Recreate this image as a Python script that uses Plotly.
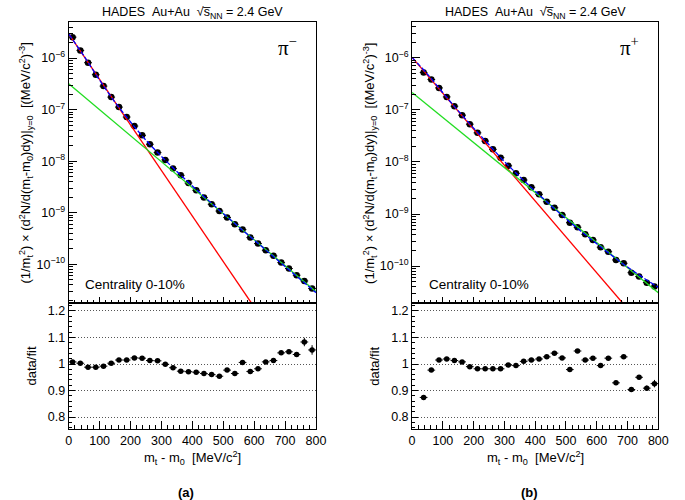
import plotly.graph_objects as go

# ---------------- data ----------------
mt_pim = [12.5, 37.5, 62.5, 87.5, 112.5, 137.5, 162.5, 187.5, 212.5, 237.5, 262.5, 287.5,
          312.5, 337.5, 362.5, 387.5, 412.5, 437.5, 462.5, 487.5, 512.5, 537.5, 562.5, 587.5,
          612.5, 637.5, 662.5, 687.5, 712.5, 737.5, 762.5, 787.5]
spec_pim = [2.55e-6, 1.41e-6, 8.15e-7, 4.76e-7, 2.86e-7, 1.75e-7, 1.12e-7, 7.19e-8, 4.81e-8,
            3.18e-8, 2.13e-8, 1.47e-8, 1.06e-8, 7.19e-9, 5.33e-9, 3.78e-9, 2.73e-9, 1.97e-9,
            1.46e-9, 1.08e-9, 8.07e-10, 5.98e-10, 4.72e-10, 3.30e-10, 2.53e-10, 1.87e-10,
            1.46e-10, 1.08e-10, 8.30e-11, 6.15e-11, 4.76e-11, 3.40e-11]
ratio_pim = [1.008, 1.003, 0.988, 0.988, 0.992, 1.003, 1.015, 1.015, 1.023, 1.022, 1.013, 1.012,
             0.999, 0.986, 0.973, 0.971, 0.969, 0.964, 0.960, 0.954, 0.977, 0.964, 1.006, 0.972,
             0.982, 1.008, 1.013, 1.042, 1.046, 1.036, 1.083, 1.053]
rerr_pim = [0.004] * 22 + [0.005] * 5 + [0.008, 0.008, 0.008, 0.016, 0.018]

mt_pip = [37.5, 62.5, 87.5, 112.5, 137.5, 162.5, 187.5, 212.5, 237.5, 262.5, 287.5,
          312.5, 337.5, 362.5, 387.5, 412.5, 437.5, 462.5, 487.5, 512.5, 537.5, 562.5, 587.5,
          612.5, 637.5, 662.5, 687.5, 712.5, 737.5, 762.5, 787.5]
spec_pip = [5.25e-7, 3.85e-7, 2.65e-7, 1.78e-7, 1.18e-7, 7.94e-8, 5.33e-8, 3.63e-8, 2.52e-8,
            1.75e-8, 1.21e-8, 8.45e-9, 6.04e-9, 4.50e-9, 3.26e-9, 2.39e-9, 1.72e-9, 1.32e-9,
            9.57e-10, 6.81e-10, 5.56e-10, 4.07e-10, 3.17e-10, 2.30e-10, 1.89e-10, 1.31e-10,
            1.13e-10, 7.46e-11, 6.27e-11, 4.80e-11, 4.03e-11]
ratio_pip = [0.874, 0.977, 1.015, 1.019, 1.013, 1.008, 0.990, 0.982, 0.982, 0.982, 0.982,
             0.996, 0.994, 1.010, 1.015, 1.019, 1.027, 1.041, 1.023, 0.979, 1.049, 1.015, 1.022,
             0.994, 1.022, 0.929, 1.027, 0.904, 0.950, 0.909, 0.926]
rerr_pip = [0.004] * 25 + [0.005, 0.005, 0.006, 0.008, 0.010, 0.014]

# fit curves
pim_red_x, pim_red_y = [0, 591], [2.94e-6, 1.78e-11]
pim_green_x, pim_green_y = [0, 800], [3.19e-7, 2.95e-11]
fit_x = [0, 50, 100, 150, 200, 250, 300, 350, 400, 500, 600, 700, 800]
pim_blue_y = [2.95e-6, 1.08e-6, 3.73e-7, 1.39e-7, 5.77e-8, 2.55e-8, 1.24e-8, 6.32e-9,
              3.31e-9, 9.68e-10, 2.96e-10, 9.12e-11, 2.82e-11]

pip_red_x, pip_red_y = [0, 684], [1.02e-6, 1.95e-11]
pip_green_x, pip_green_y = [0, 800], [2.17e-7, 3.08e-11]
pip_blue_y = [1.02e-6, 4.86e-7, 2.14e-7, 9.59e-8, 4.47e-8, 2.14e-8, 1.02e-8, 5.21e-9,
              2.74e-9, 8.13e-10, 2.68e-10, 9.55e-11, 3.89e-11]

x_ticks = [0, 100, 200, 300, 400, 500, 600, 700, 800]
log_ticks = [1e-10, 1e-9, 1e-8, 1e-7, 1e-6]
ratio_ticks = [0.8, 0.9, 1.0, 1.1, 1.2]
ratio_labels = ["0.8", "0.9", "1", "1.1", "1.2"]

# ---------------- figure ----------------
W, H = 685, 500
FONT = "Liberation Sans, Arial, Helvetica, sans-serif"
RED, GREEN, BLUE = "#ff0000", "#22dd22", "#0000ff"


def fx(px):
    return px / W


def fy(py):
    return 1 - py / H


fig = go.Figure()

panels = [
    dict(sx="x", sy="y", rx="x2", ry="y2", mt=mt_pim, spec=spec_pim, ratio=ratio_pim, rerr=rerr_pim,
         red=(pim_red_x, pim_red_y), green=(pim_green_x, pim_green_y), blue=pim_blue_y),
    dict(sx="x3", sy="y3", rx="x4", ry="y4", mt=mt_pip, spec=spec_pip, ratio=ratio_pip, rerr=rerr_pip,
         red=(pip_red_x, pip_red_y), green=(pip_green_x, pip_green_y), blue=pip_blue_y),
]

for p in panels:
    spec_err = [v * e for v, e in zip(p["spec"], p["rerr"])]
    fig.add_trace(go.Scatter(
        x=p["mt"], y=p["spec"], mode="markers", xaxis=p["sx"], yaxis=p["sy"],
        marker=dict(color="black", size=6.5, symbol="circle"),
        error_x=dict(type="constant", value=12.5, color="black", thickness=1, width=0),
        error_y=dict(type="data", array=spec_err, color="black", thickness=1, width=0),
        showlegend=False))
    fig.add_trace(go.Scatter(x=p["red"][0], y=p["red"][1], mode="lines", xaxis=p["sx"], yaxis=p["sy"],
                             line=dict(color=RED, width=1.3), showlegend=False))
    fig.add_trace(go.Scatter(x=p["green"][0], y=p["green"][1], mode="lines", xaxis=p["sx"], yaxis=p["sy"],
                             line=dict(color=GREEN, width=1.3), showlegend=False))
    fig.add_trace(go.Scatter(x=fit_x, y=p["blue"], mode="lines", xaxis=p["sx"], yaxis=p["sy"],
                             line=dict(color=BLUE, width=1.3, dash="5px,2px", shape="spline"),
                             showlegend=False))
    fig.add_trace(go.Scatter(
        x=p["mt"], y=p["ratio"], mode="markers", xaxis=p["rx"], yaxis=p["ry"],
        marker=dict(color="black", size=5.5, symbol="circle"),
        error_x=dict(type="constant", value=12.5, color="black", thickness=1, width=0),
        error_y=dict(type="data", array=p["rerr"], color="black", thickness=1, width=0),
        showlegend=False))

tickfont = dict(family=FONT, size=12.5, color="black")
common = dict(showline=True, linecolor="black", linewidth=1, mirror=True, ticks="inside",
              tickcolor="black", tickwidth=1, zeroline=False, showgrid=False, tickfont=tickfont)

left_x = [fx(67), fx(319)]
right_x = [fx(417), fx(668)]
up_y = [fy(303), fy(22)]
lo_y = [fy(429), fy(303)]

minor_log = [m * d for d in [1e-11, 1e-10, 1e-9, 1e-8, 1e-7, 1e-6] for m in range(2, 10)]
log_text = ["10<sup>−%d</sup>" % k for k in [10, 9, 8, 7, 6]]


def upper_x(anchor, dom):
    return dict(domain=dom, anchor=anchor, range=[0, 800], tickvals=x_ticks, showticklabels=False,
                ticklen=6, minor=dict(ticks="inside", ticklen=3, dtick=20, tickcolor="black"), **common)


def lower_x(anchor, dom):
    return dict(domain=dom, anchor=anchor, range=[0, 800], tickvals=x_ticks,
                ticktext=[str(v) for v in x_ticks], ticklen=8,
                minor=dict(ticks="inside", ticklen=4, dtick=20, tickcolor="black"), **common)


def upper_y(anchor, rng):
    return dict(domain=up_y, anchor=anchor, type="log", range=rng, tickvals=log_ticks,
                ticktext=log_text, ticklen=8,
                minor=dict(ticks="inside", ticklen=4, tickvals=minor_log, tickcolor="black"),
                **common)


def lower_y(anchor):
    c = dict(common)
    c["showgrid"] = True
    return dict(domain=lo_y, anchor=anchor, range=[0.755, 1.23], tickvals=ratio_ticks,
                ticktext=ratio_labels, ticklen=6, gridcolor="#555", griddash="1px,2px", gridwidth=1,
                minor=dict(ticks="inside", ticklen=3, dtick=0.02, tickcolor="black", showgrid=False),
                **c)


fig.update_layout(
    width=W, height=H, margin=dict(l=0, r=0, t=0, b=0),
    paper_bgcolor="white", plot_bgcolor="white",
    font=dict(family=FONT, color="black"),
    xaxis=upper_x("y", left_x), yaxis=upper_y("x", [-10.75, -5.30]),
    xaxis2=lower_x("y2", left_x), yaxis2=lower_y("x2"),
    xaxis3=upper_x("y3", right_x), yaxis3=upper_y("x3", [-10.71, -5.31]),
    xaxis4=lower_x("y4", right_x), yaxis4=lower_y("x4"),
)

NB = "\u00a0"
title_txt = "HADES" + NB * 2 + "Au+Au" + NB * 2 + "√s\u0305<sub>NN</sub> = 2.4 GeV"
ytitle = ("(1/m<sub>t</sub><sup>2</sup>) × (d<sup>2</sup>N/d(m<sub>t</sub>-m<sub>0</sub>)dy)|<sub>y=0</sub>"
          + NB * 2 + "[(MeV/c<sup>2</sup>)<sup>-3</sup>]")
xtitle = "m<sub>t</sub> - m<sub>0</sub>" + NB * 2 + "[MeV/c<sup>2</sup>]"

ann = []
for cx, ytx, rtx, lab, pil, pix, cenx in [
        (193, 23, 29, "<b>(a)</b>", "π<sup>−</sup>", 278, 82),
        (542.5, 374, 378, "<b>(b)</b>", "π<sup>+</sup>", 627, 432)]:
    ann.append(dict(x=fx(cx), y=fy(13), xref="paper", yref="paper", text=title_txt, showarrow=False,
                    xanchor="center", yanchor="middle", font=dict(family=FONT, size=12.5)))
    ann.append(dict(x=fx(ytx), y=fy(163), xref="paper", yref="paper", text=ytitle, showarrow=False,
                    textangle=-90, xanchor="center", yanchor="middle", font=dict(family=FONT, size=13)))
    ann.append(dict(x=fx(rtx), y=fy(366), xref="paper", yref="paper", text="data/fit", showarrow=False,
                    textangle=-90, xanchor="center", yanchor="middle", font=dict(family=FONT, size=13)))
    ann.append(dict(x=fx(cx), y=fy(458), xref="paper", yref="paper", text=xtitle, showarrow=False,
                    xanchor="center", yanchor="middle", font=dict(family=FONT, size=13)))
    ann.append(dict(x=fx(cx - 6), y=fy(492), xref="paper", yref="paper", text=lab, showarrow=False,
                    xanchor="center", yanchor="middle", font=dict(family=FONT, size=13)))
    ann.append(dict(x=fx(pix), y=fy(47), xref="paper", yref="paper", text=pil, showarrow=False,
                    xanchor="left", yanchor="middle", font=dict(family="Liberation Serif, serif", size=21)))
    ann.append(dict(x=fx(cenx), y=fy(284), xref="paper", yref="paper", text="Centrality 0-10%",
                    showarrow=False, xanchor="left", yanchor="middle", font=dict(family=FONT, size=13.5)))
fig.update_layout(annotations=ann)

fig.write_html("out.html", config={"displayModeBar": False},
               post_script="document.body.style.margin='0';"
                           "document.body.style.overflow='hidden';")
